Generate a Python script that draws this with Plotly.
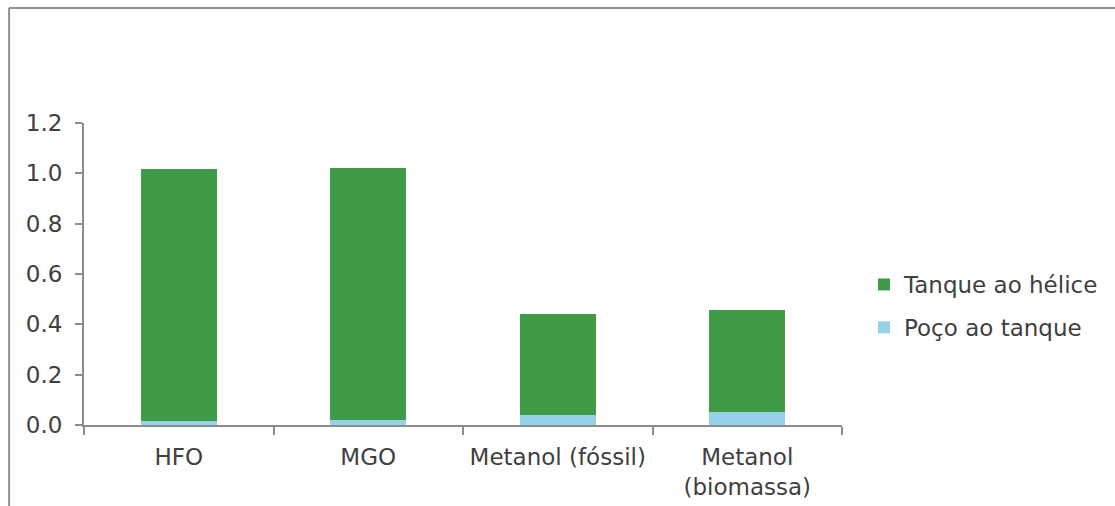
import plotly.graph_objects as go

# Emissions by fuel, split into well-to-tank and tank-to-propeller shares
categories = ["HFO", "MGO", "Metanol (fóssil)", "Metanol<br>(biomassa)"]
poco_ao_tanque = [0.015, 0.018, 0.040, 0.050]
tanque_ao_helice = [1.002, 1.005, 0.402, 0.405]

GREEN = "#409B48"
BLUE = "#96D0E9"
AXIS = "#8C8C8C"
TEXT = "#404040"
FONT = "Verdana, DejaVu Sans, sans-serif"
FS = 23

fig = go.Figure()
fig.add_trace(go.Bar(
    x=categories, y=poco_ao_tanque, name="Poço ao tanque",
    marker=dict(color=BLUE, line=dict(width=0)),
    legendgroup="b", legendrank=2,
))
fig.add_trace(go.Bar(
    x=categories, y=tanque_ao_helice, name="Tanque ao hélice",
    marker=dict(color=GREEN, line=dict(width=0)),
    legendgroup="a", legendrank=1,
))

# plot area spans pixels x 84..843, y 123..425
L, R, T, B = 84, 843, 123, 425
W, H = 1115, 506


def px(x):
    return (x - L) / (R - L)


def py(y):
    return (B - y) / (B - T)


frame = dict(color="#909090", width=2)
shapes = [
    dict(type="line", xref="paper", yref="paper",
         x0=px(9), x1=px(W + 2), y0=py(8), y1=py(8), line=frame),
    dict(type="line", xref="paper", yref="paper",
         x0=px(9), x1=px(9), y0=py(8), y1=py(H + 2), line=frame),
]

fig.update_layout(
    width=W, height=H,
    margin=dict(l=L, r=W - R, t=T, b=H - B, pad=0),
    barmode="stack",
    bargap=0.6,
    plot_bgcolor="white",
    paper_bgcolor="white",
    font=dict(family=FONT, size=FS, color=TEXT),
    showlegend=True,
    legend=dict(
        x=px(864), xanchor="left", y=py(306), yanchor="middle",
        traceorder="grouped", tracegroupgap=10,
        font=dict(size=FS, color=TEXT), bgcolor="rgba(0,0,0,0)",
    ),
    shapes=shapes,
    xaxis=dict(
        showline=True, linecolor=AXIS, linewidth=2,
        ticks="outside", tickson="boundaries", ticklen=8,
        tickcolor=AXIS, tickwidth=2, showgrid=False,
        tickangle=0, automargin=False,
        ticklabelstandoff=10,
        tickfont=dict(size=FS, color=TEXT),
    ),
    yaxis=dict(
        range=[0, 1.2], dtick=0.2, tickformat=".1f",
        showline=True, linecolor=AXIS, linewidth=2,
        ticks="outside", ticklen=7, tickcolor=AXIS, tickwidth=2,
        showgrid=False, zeroline=False, automargin=False,
        ticklabelstandoff=8,
        tickfont=dict(size=FS, color=TEXT),
    ),
)

fig.write_html("out.html")
